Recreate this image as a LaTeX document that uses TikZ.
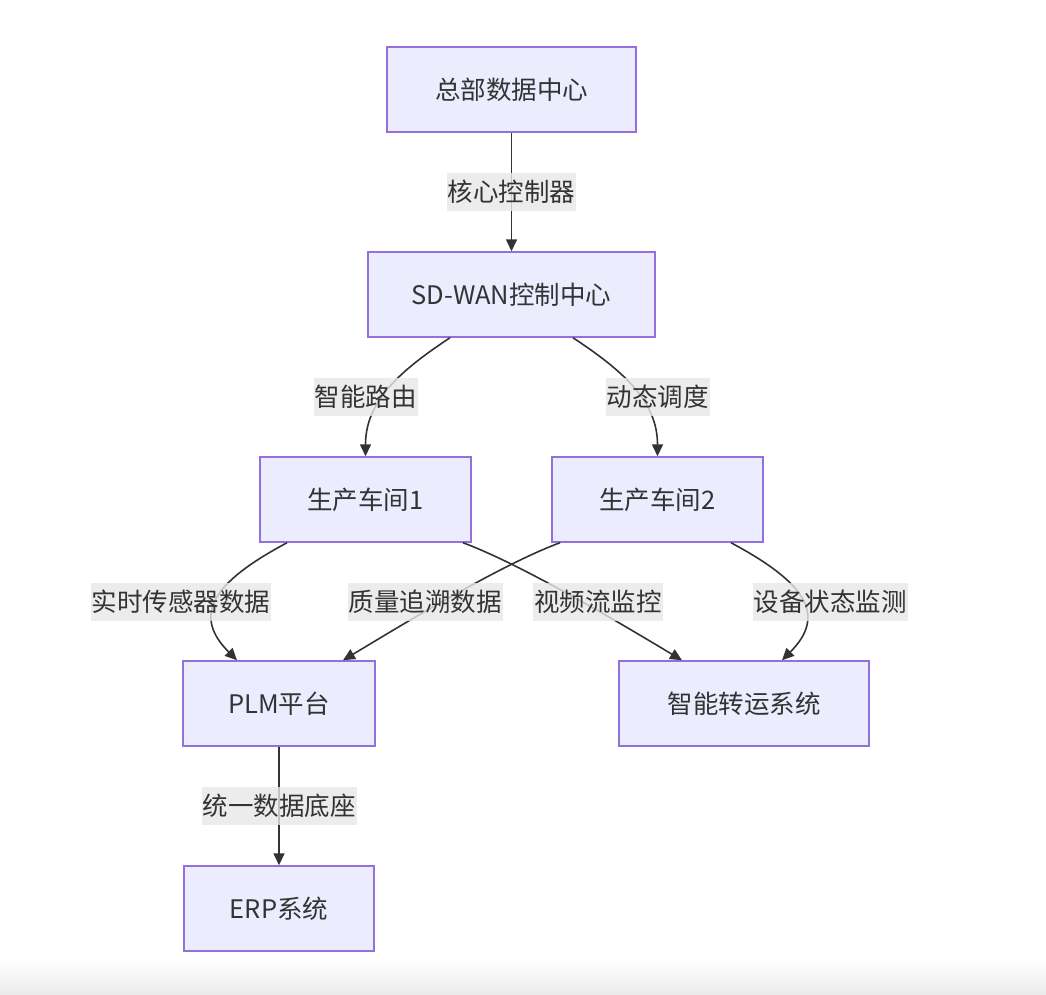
\documentclass[tikz,border=0pt]{standalone}
\usepackage{fontspec}
\setmainfont{Noto Sans CJK SC}
\usetikzlibrary{arrows.meta,shadings}
\definecolor{nodefill}{HTML}{ECECFF}
\definecolor{nodeline}{HTML}{9370DB}
\definecolor{txt}{HTML}{333333}
\definecolor{lblbg}{HTML}{E8E8E8}
\begin{document}
\begin{tikzpicture}[x=1pt,y=-1pt,
  box/.style={draw=nodeline,fill=nodefill,line width=1.5pt,minimum height=85pt,inner sep=0pt,text=txt,font=\fontsize{25.5}{29}\selectfont},
  lbl/.style={fill=lblbg,fill opacity=0.8,text opacity=1,text=txt,inner xsep=1pt,inner ysep=0pt,minimum height=38pt,font=\fontsize{25.5}{29}\selectfont},
  edge/.style={draw=txt,line width=1.6pt,-{Triangle[length=12pt,width=11pt]}}]
\useasboundingbox (0,0) rectangle (1046,994);
\fill[white] (0,0) rectangle (1046,994);
\shade[top color=white,bottom color=black!8] (0,960) rectangle (1046,994);
% nodes
\node[box,minimum width=249pt] (hq) at (511.5,89.5) {总部数据中心};
\node[box,minimum width=287pt] (sd) at (511.5,294.5) {SD-WAN控制中心};
\node[box,minimum width=211pt] (w1) at (365.5,499.5) {生产车间1};
\node[box,minimum width=211pt] (w2) at (657.5,499.5) {生产车间2};
\node[box,minimum width=192pt] (plm) at (279,703.5) {PLM平台};
\node[box,minimum width=250pt] (agv) at (744,703.5) {智能转运系统};
\node[box,minimum width=190pt] (erp) at (279,908.5) {ERP系统};
% edges
\draw[edge] (hq.south) -- (sd.north);
\draw[edge] ([xshift=-61.5pt]sd.south) .. controls +(-50,33) and +(0,-55) .. (w1.north);
\draw[edge] ([xshift=61.5pt]sd.south) .. controls +(50,33) and +(0,-55) .. (w2.north);
\draw[edge] ([xshift=-78.5pt]w1.south) .. controls +(-75,40) and +(-45,-45) .. ([xshift=-42pt]plm.north);
\draw[edge] ([xshift=97.5pt]w1.south) .. controls +(60,22) and +(-50,-30) .. ([xshift=-62pt]agv.north);
\draw[edge] ([xshift=-97.5pt]w2.south) .. controls +(-60,22) and +(50,-30) .. ([xshift=64pt]plm.north);
\draw[edge] ([xshift=73.5pt]w2.south) .. controls +(75,40) and +(45,-45) .. ([xshift=38pt]agv.north);
\draw[edge] (plm.south) -- (erp.north);
% labels
\node[lbl] (l1) at (511.5,192) {核心控制器};
\node[lbl] (l2) at (365.5,397) {智能路由};
\node[lbl] (l3) at (657.5,397) {动态调度};
\node[lbl] (l4) at (181,602) {实时传感器数据};
\node[lbl] (l5) at (425,602) {质量追溯数据};
\node[lbl] (l6) at (598,602) {视频流监控};
\node[lbl] (l7) at (830,602) {设备状态监测};
\node[lbl] (l8) at (279,806) {统一数据底座};
\end{tikzpicture}
\end{document}
